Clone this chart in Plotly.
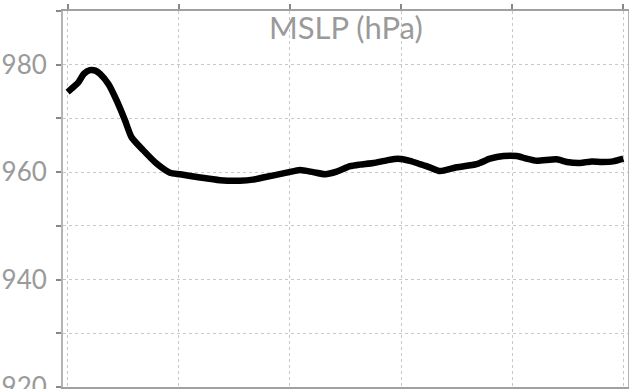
import plotly.graph_objects as go

# Forecast hour and mean sea-level pressure (hPa)
hours = [0, 1.6, 2.3, 3.5, 4.8, 6, 7, 8.8, 10.6, 12.4, 13.8, 16.3, 19.2, 22.1, 24.3,
         28.6, 32.9, 37.2, 40, 42.2, 47.3, 50.2, 53, 55.6, 58.1, 61, 63.1, 66, 68.9,
         71.4, 73.9, 76.1, 78.2, 80.4, 84, 88.3, 91.2, 94.1, 97, 99.1, 101.3, 105.6,
         107.8, 110.6, 113.2, 115.3, 117.8, 120]
mslp = [974.9, 976.1, 976.7, 978.3, 979.0, 978.9, 978.3, 976.4, 973.3, 969.6, 966.5,
        964.1, 961.6, 959.9, 959.6, 959.0, 958.5, 958.4, 958.6, 959.0, 959.9, 960.4,
        960.0, 959.6, 960.1, 961.1, 961.4, 961.7, 962.2, 962.5, 962.1, 961.5, 960.9,
        960.2, 960.9, 961.5, 962.5, 963.0, 963.0, 962.5, 962.1, 962.4, 961.9, 961.7,
        962.0, 961.9, 962.0, 962.5]
x_ticks = [0, 24, 48, 72, 96, 120]
y_ticks = [920, 930, 940, 950, 960, 970, 980, 990]
y_labels = ["920", "", "940", "", "960", "", "980", ""]
title_text = "MSLP (hPa)"

fig = go.Figure()
fig.add_trace(go.Scatter(
    x=hours, y=mslp, mode="lines",
    line=dict(color="black", width=6.5, shape="spline", smoothing=0.6),
    showlegend=False,
))

grid = dict(showgrid=True, gridcolor="#c8c8c8", gridwidth=1, griddash="dot")
fig.update_xaxes(
    range=[-1, 121], tickmode="array", tickvals=x_ticks, showticklabels=False,
    ticks="outside", ticklen=5, tickcolor="#888888", tickwidth=1.5,
    showline=True, linecolor="#a0a0a0", linewidth=2, mirror="ticks",
    zeroline=False, automargin=False, **grid,
)
fig.update_yaxes(
    range=[920, 990], tickmode="array", tickvals=y_ticks, ticktext=y_labels,
    ticks="outside", ticklen=5, tickcolor="#888888", tickwidth=1.5,
    showline=True, linecolor="#b4b4b4", linewidth=2, mirror="ticks",
    tickfont=dict(family="Lato", size=26, color="#9a9a9a"),
    zeroline=False, ticklabelstandoff=4, automargin=False,
    ticklabeloverflow="allow", **grid,
)
fig.add_annotation(
    text=title_text, xref="paper", yref="paper", x=0.5, y=1.0,
    xanchor="center", yanchor="top", yshift=5, showarrow=False,
    font=dict(family="Lato", size=31, color="#9a9a9a"),
)
fig.update_layout(
    width=629, height=389,
    margin=dict(l=63, r=1, t=11, b=2),
    paper_bgcolor="white", plot_bgcolor="white",
)
fig.write_html("out.html")
